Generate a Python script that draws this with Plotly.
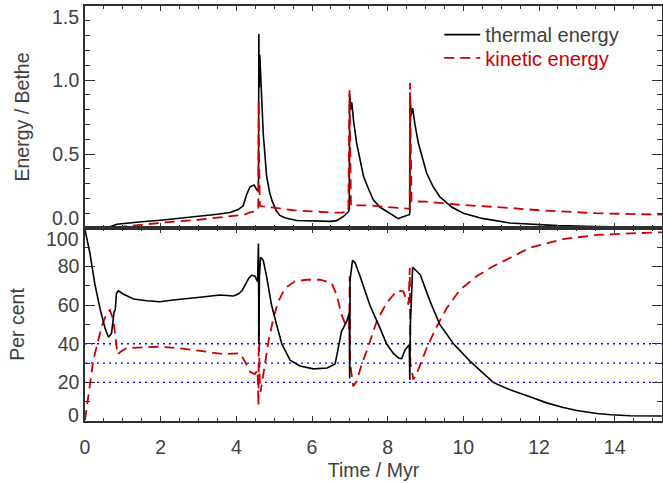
import plotly.graph_objects as go

# ---------------- data ----------------
time_max = 15.25

# top panel: energies in units of Bethe (1e51 erg)
thermal_t = [0.0, 0.3, 0.66, 0.84, 1.0, 1.5, 2.0, 2.5, 3.0, 3.5, 3.83, 3.92, 4.05, 4.18, 4.27, 4.36,
             4.47, 4.53, 4.565, 4.585, 4.595, 4.605, 4.62, 4.64, 4.71, 4.80, 4.88, 4.95, 5.05, 5.15,
             5.3, 5.6, 6.0, 6.5, 6.65, 6.83, 6.96, 6.985, 6.995, 7.02, 7.05, 7.1, 7.18, 7.36, 7.5,
             7.62, 7.8, 7.97, 8.15, 8.28, 8.37, 8.5, 8.57, 8.585, 8.595, 8.62, 8.66, 8.72, 8.81,
             9.03, 9.2, 9.38, 9.7, 10.0, 10.5, 11.23, 11.76, 12.5, 13.5, 14.5, 15.25]
thermal_E = [0.0, 0.002, 0.008, 0.025, 0.03, 0.042, 0.053, 0.065, 0.078, 0.093, 0.105, 0.112, 0.125, 0.15, 0.225, 0.277,
             0.29, 0.263, 0.25, 0.27, 1.31, 0.95, 1.17, 1.05, 0.64, 0.35, 0.24, 0.18, 0.12, 0.085,
             0.068, 0.051, 0.047, 0.045, 0.05, 0.078, 0.11, 0.13, 0.905, 0.80, 0.85, 0.72, 0.574, 0.35, 0.26,
             0.19, 0.14, 0.112, 0.08, 0.063, 0.072, 0.082, 0.09, 0.10, 0.87, 0.76, 0.81, 0.70, 0.574,
             0.37, 0.28, 0.21, 0.14, 0.10, 0.065, 0.034, 0.025, 0.016, 0.01, 0.006, 0.004]

kinetic_t = [0.0, 0.7, 1.0, 1.3, 2.2, 3.0, 3.9, 4.2, 4.36, 4.5, 4.58, 4.59, 4.60, 4.62, 4.7, 5.0, 5.5,
             6.0, 6.5, 6.8, 6.96, 6.99, 7.01, 7.03, 7.2, 7.5, 8.0, 8.55, 8.58, 8.59, 8.61, 8.63,
             9.0, 10.0, 11.0, 12.0, 13.5, 15.25]
kinetic_E = [0.0, 0.001, 0.01, 0.018, 0.04, 0.056, 0.078, 0.09, 0.105, 0.113, 0.125, 0.86, 0.5, 0.15, 0.146, 0.138, 0.12,
             0.113, 0.104, 0.105, 0.11, 0.93, 0.5, 0.15, 0.153, 0.153, 0.142, 0.13, 0.13, 0.98, 0.5, 0.18,
             0.178, 0.155, 0.14, 0.12, 0.10, 0.09]

# bottom panel: per cent of total energy
thermal_pct_t = [0.0, 0.13, 0.26, 0.40, 0.53, 0.62, 0.70, 0.77, 0.80, 0.83, 0.88, 1.01, 1.28, 1.63, 1.98,
                 2.33, 3.04, 3.57, 3.92, 4.05, 4.15, 4.23, 4.33, 4.41, 4.49, 4.56, 4.585, 4.595, 4.61,
                 4.64, 4.71, 4.80, 4.93, 5.07, 5.20, 5.42, 5.68, 6.04, 6.40, 6.61, 6.70, 6.78, 6.92,
                 6.985, 6.995, 7.005, 7.07, 7.14, 7.27, 7.53, 7.80, 7.97, 8.15, 8.30, 8.37, 8.46, 8.57,
                 8.585, 8.60, 8.66, 8.77, 8.86, 9.12, 9.38, 9.74, 10.18, 10.79, 11.23, 11.76, 12.2,
                 12.64, 13.0, 13.53, 13.9, 14.41, 15.25]
thermal_pct = [99, 87, 71, 58, 48, 43.4, 45.4, 56.6, 57.5, 66, 67.5, 65.8, 63.2, 62.3, 61.8,
               62.7, 64.1, 65.3, 64.8, 65.8, 67.5, 70.5, 74, 75.6, 75.1, 72.2, 92, 40, 75,
               84.8, 83.4, 74.8, 60.1, 49.5, 40, 31.5, 28.5, 27, 27.5, 29.5, 37.8, 46.5, 51.7,
               56, 22, 73, 83.2, 81.9, 75, 60, 48, 40, 35, 32.5, 32.3, 36.9, 39.5,
               21.4, 50, 79.6, 77.6, 75.8, 62, 49.9, 40, 30.9, 20, 16.2, 12.6, 9.4,
               7.0, 5.4, 3.9, 3.2, 2.7, 2.6]

kinetic_pct_t = [0.0, 0.03, 0.09, 0.16, 0.22, 0.33, 0.44, 0.57, 0.66, 0.75, 0.80, 0.84, 0.86, 0.95, 1.10,
                 1.54, 1.98, 2.51, 3.04, 3.66, 4.10, 4.23, 4.36, 4.49, 4.56, 4.585, 4.595, 4.61, 4.64,
                 4.67, 4.76, 4.85, 4.98, 5.11, 5.29, 5.55, 5.86, 6.21, 6.52, 6.65, 6.78, 6.92, 6.985,
                 6.995, 7.005, 7.09, 7.18, 7.31, 7.49, 7.71, 7.97, 8.24, 8.41, 8.55, 8.585, 8.60, 8.68,
                 8.81, 9.03, 9.30, 9.56, 9.91, 10.35, 10.79, 11.23, 11.76, 12.64, 13.53, 14.41, 15.25]
kinetic_pct = [0.5, 4.8, 13.5, 23.8, 31.6, 40.2, 48.9, 55.8, 57.5, 52.3, 45, 40, 34.5, 36, 37.7,
               38.2, 38.5, 37.7, 36.3, 34.7, 35.1, 30.7, 25.5, 24.3, 26.4, 8, 58, 25, 15,
               18.8, 30.9, 41.3, 53.4, 62, 68.9, 72.4, 73.2, 73.2, 71.5, 65.4, 55.1, 48.2, 48,
               75, 30, 18, 20.6, 29.2, 38.7, 51.7, 61.1, 67.5, 67.2, 60.3, 79.3, 30, 21.4,
               26.6, 37.8, 49.1, 58.5, 68, 75, 80.2, 84.5, 89.8, 94.3, 96.4, 97.2, 97.8]

ref_levels = [20, 30, 40]

energy_ticks = [0.0, 0.5, 1.0, 1.5]
pct_ticks = [0, 20, 40, 60, 80, 100]
time_ticks = [0, 2, 4, 6, 8, 10, 12, 14]

# ---------------- styling ----------------
FONT = "Liberation Sans, Arial, Helvetica, sans-serif"
FS = 19.5
TXT = "#404040"
AX = "#303030"
RED = "#cc0000"

fig = go.Figure()

for lv in ref_levels:
    fig.add_trace(go.Scatter(x=[0, time_max], y=[lv, lv], mode="lines", xaxis="x2", yaxis="y2",
                             line=dict(color="#0000ff", width=1.4, dash="2px,4px"),
                             showlegend=False, hoverinfo="skip"))

fig.add_trace(go.Scatter(x=thermal_t, y=thermal_E, mode="lines", name="thermal energy",
                         xaxis="x", yaxis="y", line=dict(color="black", width=1.6),
                         legend="legend"))
fig.add_trace(go.Scatter(x=kinetic_t, y=kinetic_E, mode="lines", name="kinetic energy",
                         xaxis="x", yaxis="y", line=dict(color=RED, width=1.8, dash="10px,6px"),
                         legend="legend2"))
fig.add_trace(go.Scatter(x=kinetic_pct_t, y=kinetic_pct, mode="lines", showlegend=False,
                         xaxis="x2", yaxis="y2", line=dict(color=RED, width=1.8, dash="10px,6px")))
fig.add_trace(go.Scatter(x=thermal_pct_t, y=thermal_pct, mode="lines", showlegend=False,
                         xaxis="x2", yaxis="y2", line=dict(color="black", width=1.6)))

common_axis = dict(showline=True, linecolor=AX, linewidth=1.5, mirror="ticks", ticks="inside",
                   tickcolor=AX, tickwidth=1, showgrid=False, zeroline=False, automargin=False,
                   tickfont=dict(family=FONT, size=FS, color=TXT))

yd = 0.465
fig.update_layout(
    width=663, height=483,
    margin=dict(l=85, r=1, t=6, b=62, autoexpand=False),
    paper_bgcolor="white", plot_bgcolor="white",
    font=dict(family=FONT, size=FS, color=TXT),
    xaxis=dict(common_axis, range=[0, time_max], domain=[0, 1], anchor="y", matches="x2",
               tickvals=time_ticks, showticklabels=False, ticklen=5.5,
               minor=dict(dtick=0.5, ticklen=3, ticks="inside", tickcolor=AX)),
    yaxis=dict(common_axis, range=[0, 1.5], domain=[yd, 1], anchor="x",
               tickvals=energy_ticks, ticktext=["", "0.5", "1.0", ""], ticklen=10,
               minor=dict(dtick=0.1, ticklen=5.5, ticks="inside", tickcolor=AX),
               title=dict(text="Energy / Bethe", standoff=17,
                          font=dict(family=FONT, size=FS, color=TXT))),
    xaxis2=dict(common_axis, range=[0, time_max], domain=[0, 1], anchor="y2",
                tickvals=time_ticks, ticklen=5.5, ticklabelstandoff=8,
                minor=dict(dtick=0.5, ticklen=3, ticks="inside", tickcolor=AX),
                title=dict(text="Time / Myr", standoff=6,
                           font=dict(family=FONT, size=FS, color=TXT))),
    yaxis2=dict(common_axis, range=[0, 100], domain=[0, yd], anchor="x2",
                tickvals=pct_ticks, ticktext=[""] + [str(v) for v in pct_ticks[1:-1]] + [""],
                ticklen=10,
                minor=dict(dtick=10, ticklen=5.5, ticks="inside", tickcolor=AX),
                title=dict(text="Per cent", standoff=28,
                           font=dict(family=FONT, size=FS, color=TXT))),
    legend=dict(x=0.614, y=0.931, xanchor="left", yanchor="middle", bgcolor="rgba(0,0,0,0)",
                font=dict(family=FONT, size=20, color=TXT), itemwidth=36),
    legend2=dict(x=0.614, y=0.875, xanchor="left", yanchor="middle", bgcolor="rgba(0,0,0,0)",
                 font=dict(family=FONT, size=20, color=RED), itemwidth=36),
)

# edge tick labels, nudged inside the frame as in the original
edge = [("y", energy_ticks[0], f"{energy_ticks[0]:.1f}", 10.5),
        ("y", energy_ticks[-1], f"{energy_ticks[-1]:.1f}", -10.7),
        ("y2", pct_ticks[-1], str(pct_ticks[-1]), -11),
        ("y2", pct_ticks[0], str(pct_ticks[0]), 6)]
for yref, yv, txt, ys in edge:
    fig.add_annotation(xref="paper", x=0, yref=yref, y=yv, text=txt, showarrow=False,
                       xanchor="right", yanchor="middle", xshift=-5, yshift=ys, borderpad=0,
                       font=dict(family=FONT, size=FS, color=TXT))

fig.write_html("out.html", config={"displayModeBar": False},
               post_script="document.body.style.margin='0';document.body.style.overflow='hidden';")
